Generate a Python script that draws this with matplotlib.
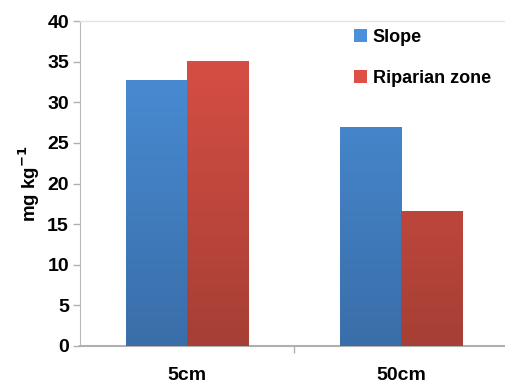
import matplotlib
matplotlib.use("Agg")
import matplotlib.pyplot as plt
import numpy as np
from matplotlib.colors import LinearSegmentedColormap

plt.rcParams['font.family'] = ['Liberation Sans', 'DejaVu Sans']

categories = ["5cm", "50cm"]
slope = [32.7, 27.0]
riparian = [35.1, 16.6]
series_names = ["Slope", "Riparian zone"]

# top / bottom colours of the gradient fill
blue_grad = ("#4b90da", "#3a6ea9")
red_grad = ("#dc5046", "#a63f35")

fig = plt.figure(figsize=(5.06, 3.85), dpi=100)
ax = fig.add_axes([80 / 506, 1 - 346 / 385, 426 / 506, 325 / 385])

x = np.arange(len(categories))
w = 0.285


def gradient_bars(xs, heights, grad, label):
    bars = ax.bar(xs, heights, w, color=grad[0], label=label, zorder=2,
                  edgecolor="none")
    cmap = LinearSegmentedColormap.from_list("g", [grad[1], grad[0]])
    grad_img = np.linspace(0, 1, 256).reshape(-1, 1)
    for b in bars:
        x0 = b.get_x()
        im = ax.imshow(grad_img, cmap=cmap, aspect="auto", origin="lower",
                       extent=(x0, x0 + b.get_width(), 0, 40), zorder=3)
        im.set_clip_path(b)
    return bars


gradient_bars(x - w / 2, slope, blue_grad, series_names[0])
gradient_bars(x + w / 2, riparian, red_grad, series_names[1])

ax.set_xlim(-0.5, 1.49)
ax.set_ylim(0, 40)
ax.set_yticks(range(0, 41, 5))
ax.set_xticks(x)
ax.set_xticklabels(categories, fontsize=14, fontweight="bold")
ax.set_xticks([0.5], minor=True)
ax.tick_params(axis="x", which="major", length=0, pad=15)
ax.tick_params(axis="x", which="minor", length=5, color="#b0b0b0", width=1)
ax.tick_params(axis="y", length=5, color="#b0b0b0", width=1, labelsize=14,
               pad=3)
for t in ax.get_yticklabels():
    t.set_fontweight("bold")

ax.spines["right"].set_visible(False)
ax.spines["top"].set_color("#e4e4e4")
ax.spines["top"].set_linewidth(1)
ax.spines["left"].set_color("#b8b8b8")
ax.spines["bottom"].set_color("#b0b0b0")
ax.spines["bottom"].set_linewidth(1.5)

ax.set_ylabel(r"mg kg$^{\mathbf{-1}}$", fontsize=13.5, fontweight="bold",
              labelpad=4)

ax.legend(loc="upper left", bbox_to_anchor=(0.605, 1.025), frameon=False,
          prop={"weight": "bold", "size": 13}, handlelength=0.7,
          handleheight=0.7, handletextpad=0.35, labelspacing=1.3)

fig.savefig("out.png", dpi=100)
